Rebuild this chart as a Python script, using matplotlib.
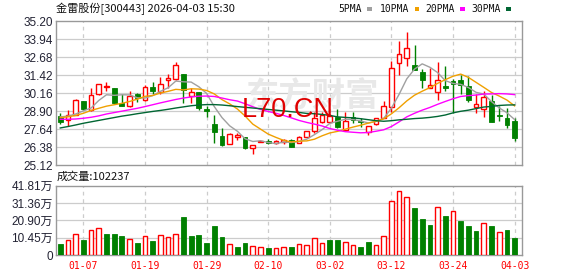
import numpy as np
import matplotlib
matplotlib.use('Agg')
import matplotlib.pyplot as plt
from matplotlib.patches import Rectangle

# ---- data ----
title = '金雷股份[300443] 2026-04-03 15:30'
vol_title = '成交量:102237'
date_pos = [3, 11, 19, 27, 35, 43, 51, 59]
date_labels = ['01-07', '01-19', '01-29', '02-10', '03-02', '03-12', '03-24', '04-03']
price_ticks = [25.12, 26.38, 27.64, 28.90, 30.16, 31.42, 32.68, 33.94, 35.20]
vol_ticks = [0, 10.45, 20.90, 31.36, 41.81]
ma_names = ['5PMA', '10PMA', '20PMA', '30PMA']

opens = [28.59, 28.29, 28.64, 29.63, 28.95, 30.07, 30.59, 30.54, 29.46, 29.23,
         30.12, 29.65, 30.59, 30.21, 31.06, 31.15, 31.53, 29.93, 30.21, 29.04,
         28.01, 27.16, 26.60, 27.11, 27.11, 26.30, 26.75, 26.83, 26.65, 26.70,
         26.88, 26.65, 27.11, 27.54, 28.17, 28.17, 28.52, 27.58, 28.52, 28.22,
         27.47, 28.01, 28.45, 29.20, 32.28, 32.63, 32.16, 31.62, 30.56, 30.21,
         30.68, 31.04, 31.11, 30.68, 29.18, 29.04, 29.63, 28.66, 28.41, 28.22]
highs = [28.76, 28.99, 29.77, 29.63, 30.54, 30.82, 30.92, 30.54, 30.12, 30.33,
         30.17, 30.73, 30.96, 31.29, 31.53, 32.33, 31.53, 30.52, 30.25, 29.23,
         28.64, 27.75, 27.35, 27.35, 27.11, 26.50, 26.85, 26.92, 26.90, 26.98,
         26.98, 27.17, 27.49, 28.85, 28.87, 28.69, 29.05, 28.87, 28.87, 28.41,
         27.87, 28.45, 29.63, 32.44, 33.80, 34.44, 33.57, 31.86, 31.93, 32.35,
         32.04, 31.16, 31.46, 31.34, 30.12, 30.33, 30.05, 29.27, 29.11, 28.41]
lows = [28.01, 27.87, 28.64, 28.95, 28.88, 30.03, 30.31, 29.46, 29.25, 29.18,
        29.56, 29.60, 30.12, 30.07, 30.54, 31.06, 29.46, 29.46, 28.99, 28.52,
        26.65, 26.46, 26.60, 26.88, 26.23, 25.90, 26.70, 26.62, 26.56, 26.62,
        26.37, 26.65, 27.11, 27.35, 28.05, 28.17, 27.70, 27.51, 28.06, 27.82,
        27.23, 27.95, 28.41, 28.85, 31.46, 32.04, 31.76, 30.52, 30.56, 29.65,
        30.28, 28.80, 30.12, 29.51, 28.80, 28.52, 28.17, 28.24, 27.70, 26.83]
closes = [28.17, 28.66, 29.70, 29.04, 30.03, 30.80, 30.68, 29.49, 29.27, 29.98,
          29.79, 30.59, 30.31, 30.80, 31.22, 32.14, 30.35, 30.21, 29.11, 28.94,
          27.47, 26.53, 27.30, 27.21, 26.30, 26.50, 26.80, 26.69, 26.81, 26.85,
          26.37, 27.11, 27.49, 28.41, 28.64, 28.57, 27.82, 28.22, 28.29, 28.13,
          27.87, 28.41, 29.23, 31.93, 32.94, 33.34, 31.81, 31.06, 30.75, 31.11,
          30.49, 30.82, 30.75, 29.65, 29.39, 29.89, 28.17, 28.57, 27.94, 27.00]
prev_close = 28.60  # close before the first day shown
volumes = [6.6, 9.0, 12.5, 9.0, 14.9, 16.1, 12.7, 12.7, 11.5, 9.5,
           7.2, 11.3, 8.4, 11.9, 10.7, 12.5, 22.9, 11.5, 12.1, 7.2,
           17.5, 10.9, 6.4, 4.8, 7.2, 5.2, 4.6, 4.2, 4.0, 4.6,
           4.8, 6.4, 5.8, 10.1, 7.0, 9.0, 9.0, 7.6, 5.8, 4.8,
           7.8, 5.8, 11.3, 32.4, 38.4, 34.8, 28.4, 21.7, 18.1, 28.8,
           23.5, 26.4, 20.5, 17.5, 14.5, 19.1, 17.5, 13.7, 15.1, 10.22]  # 万

ma5 = [28.50, 28.55, 28.70, 28.92, 29.12, 29.65, 30.05, 30.01, 30.05, 30.04,
       29.84, 29.82, 29.99, 30.29, 30.54, 31.01, 30.96, 30.94, 30.61, 30.15,
       29.22, 28.45, 27.87, 27.49, 26.96, 26.77, 26.82, 26.70, 26.62, 26.73,
       26.70, 26.77, 26.93, 27.25, 27.60, 28.04, 28.19, 28.33, 28.31, 28.21,
       28.07, 28.18, 28.39, 29.11, 30.08, 31.17, 31.85, 32.22, 31.98, 31.61,
       31.04, 30.85, 30.78, 30.56, 30.22, 30.10, 29.57, 29.13, 28.79, 28.31]
ma10 = [28.45, 28.50, 28.60, 28.75, 28.95, 29.10, 29.25, 29.35, 29.45, 29.58,
        29.74, 29.94, 30.00, 30.17, 30.29, 30.43, 30.39, 30.47, 30.45, 30.35,
        30.11, 29.71, 29.41, 29.05, 28.56, 27.99, 27.64, 27.29, 27.06, 26.85,
        26.74, 26.79, 26.81, 26.93, 27.17, 27.37, 27.48, 27.63, 27.78, 27.91,
        28.06, 28.19, 28.36, 28.71, 29.14, 29.62, 30.02, 30.30, 30.55, 30.85,
        31.11, 31.35, 31.50, 31.27, 30.92, 30.57, 30.21, 29.96, 29.68, 29.27]
ma20 = [28.33, 28.33, 28.35, 28.40, 28.47, 28.57, 28.70, 28.80, 28.90, 29.00,
        29.10, 29.22, 29.35, 29.48, 29.60, 29.72, 29.82, 29.90, 29.95, 29.96,
        29.93, 29.82, 29.70, 29.61, 29.42, 29.21, 29.02, 28.88, 28.75, 28.60,
        28.43, 28.25, 28.11, 27.99, 27.86, 27.68, 27.56, 27.46, 27.42, 27.38,
        27.40, 27.49, 27.59, 27.82, 28.15, 28.50, 28.75, 28.97, 29.16, 29.38,
        29.58, 29.77, 29.93, 29.99, 30.03, 30.10, 30.11, 30.13, 30.11, 30.06]
ma30 = [27.72, 27.82, 27.93, 28.05, 28.15, 28.25, 28.35, 28.45, 28.55, 28.63,
        28.72, 28.80, 28.88, 28.95, 29.03, 29.12, 29.20, 29.28, 29.33, 29.36,
        29.36, 29.33, 29.28, 29.22, 29.17, 29.12, 29.07, 29.02, 28.97, 28.92,
        28.86, 28.81, 28.74, 28.72, 28.67, 28.60, 28.50, 28.46, 28.43, 28.37,
        28.30, 28.23, 28.19, 28.23, 28.29, 28.33, 28.38, 28.41, 28.46, 28.53,
        28.63, 28.78, 28.89, 28.97, 29.08, 29.19, 29.23, 29.30, 29.33, 29.34]

# ---- style ----
RED = '#ff0000'
GREEN = '#008000'
ma_colors = ['#a0a0a0', '#f0a000', '#ff00ff', '#006633']
W, H = 578, 276

o = np.array(opens); c = np.array(closes)
hi = np.array(highs); lo = np.array(lows)
x = np.arange(len(c))
up = c >= o
vol_up = c >= np.concatenate([[prev_close], c[:-1]])

fig = plt.figure(figsize=(W / 100, H / 100), dpi=100)
ax1 = fig.add_axes([55.5 / W, 1 - 165 / H, 466.5 / W, 143.6 / H])
ax2 = fig.add_axes([55.5 / W, 1 - 255 / H, 466.5 / W, 69.3 / H])

for ax in (ax1, ax2):
    for s in ax.spines.values():
        s.set_color('#999999')
        s.set_linewidth(1.0)
    ax.set_xlim(-0.62, 59.96)
    ax.set_xticks(date_pos)
    ax.tick_params(length=0)
    for p in date_pos:
        ax.axvline(p, color='#cccccc', lw=0.9, ls=(0, (3, 3)), zorder=0)

# price panel
ax1.set_ylim(price_ticks[0], price_ticks[-1])
ax1.set_yticks(price_ticks)
ax1.set_yticklabels(['%.2f' % t for t in price_ticks], fontsize=8.5,
                    family='Liberation Sans', color='#222233')
ax1.tick_params(axis='y', pad=2)
ax1.set_xticklabels([])
for t in price_ticks[1:-1]:
    ax1.axhline(t, color='#cccccc', lw=0.9, zorder=0)

# watermark and stamp, overlapping as in the original
ax1.text(0.55, 0.47, '东方财富', transform=ax1.transAxes, ha='center',
         va='center', fontsize=24, fontweight='bold', color='#e8e8e8',
         family=['Noto Sans CJK SC'], zorder=1)
ax1.text(0.498, 0.336, 'L70.CN', transform=ax1.transAxes, ha='center',
         va='baseline', fontsize=19.5, color='#e00000',
         family='Liberation Sans', zorder=6)

bw = 0.62
body_lo = np.minimum(o, c)
body_h = np.maximum(np.abs(c - o), 0.025)
ax1.vlines(x, lo, hi, colors=np.where(up, RED, GREEN), lw=1.0, zorder=2)
ax1.bar(x[up], body_h[up], bw, bottom=body_lo[up], facecolor='white',
        edgecolor=RED, linewidth=1.0, zorder=3)
ax1.bar(x[~up], body_h[~up], bw, bottom=body_lo[~up], facecolor=GREEN,
        edgecolor=GREEN, linewidth=0.6, zorder=3)

for ma, col in zip([ma5, ma10, ma20, ma30], ma_colors):
    ax1.plot(x, ma, color=col, lw=1.0, zorder=4)

# volume panel
v = np.array(volumes)
ax2.set_ylim(vol_ticks[0], vol_ticks[-1])
ax2.set_yticks(vol_ticks)
ax2.set_yticklabels(['0'] + ['%.2f万' % t for t in vol_ticks[1:]], fontsize=8.5,
                    family=['Liberation Sans', 'Noto Sans CJK SC'], color='#222233')
ax2.tick_params(axis='y', pad=2)
ax2.set_xticklabels(date_labels, fontsize=7, family='DejaVu Sans Mono', color=RED)
ax2.tick_params(axis='x', pad=4.5)
for t in vol_ticks[1:-1]:
    ax2.axhline(t, color='#cccccc', lw=0.9, zorder=0)
ax2.bar(x[vol_up], v[vol_up], bw, facecolor='white', edgecolor=RED,
        linewidth=1.0, zorder=3)
ax2.bar(x[~vol_up], v[~vol_up], bw, facecolor=GREEN, edgecolor=GREEN,
        linewidth=0.6, zorder=3)

# header texts
fig.text(56 / W, 1 - 8.5 / H, title, ha='left', va='center', fontsize=8,
         family=['Noto Sans CJK SC'], color='#111111')
fig.text(57 / W, 1 - 177 / H, vol_title, ha='left', va='center', fontsize=8,
         family=['Noto Sans CJK SC'], color='#111111')

# MA legend
leg_x = [338.3, 380.0, 425.7, 471.7]
for name, col, lx in zip(ma_names, ma_colors, leg_x):
    fig.text(lx / W, 1 - 9 / H, name, ha='left', va='center', fontsize=7,
             family='DejaVu Sans Mono', color='#111111')
    sq_x = lx + 6.0 * len(name) + 4.5
    fig.patches.append(Rectangle((sq_x / W, 1 - 10.7 / H), 4.7 / W, 3.4 / H,
                                 transform=fig.transFigure, facecolor=col,
                                 edgecolor='none'))

fig.savefig('out.png', dpi=100)
